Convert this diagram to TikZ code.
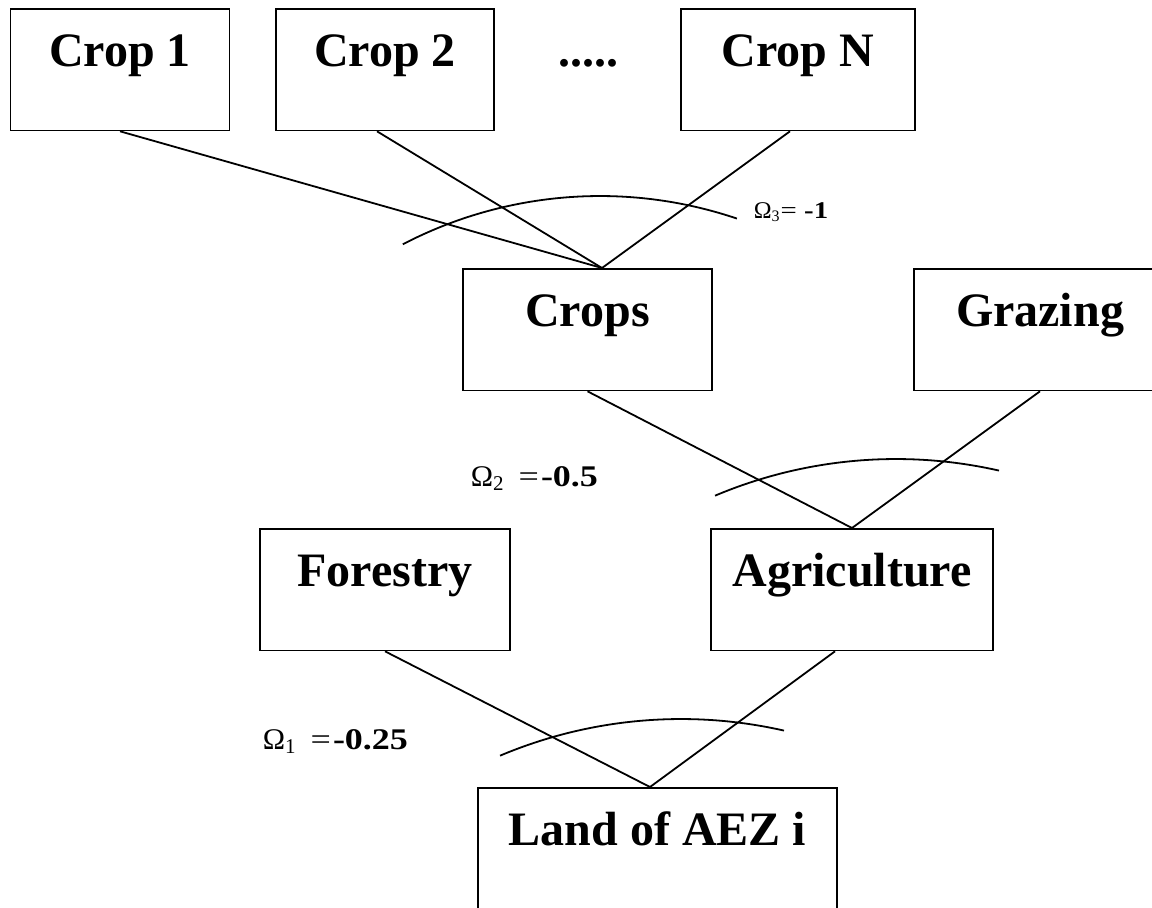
\documentclass[tikz,border=0pt]{standalone}
\usepackage{fontspec}
\setmainfont{Liberation Serif}
\newfontfamily\widefont[FakeStretch=1.2]{Liberation Serif}
\usepackage{tikz}
\newcommand{\pxl}{0.5pt}

\begin{document}
\begin{tikzpicture}[x=\pxl, y=\pxl, line width=0.9pt,
    rect/.style={draw, rectangle, anchor=north, text height=28.75pt, text depth=32pt, inner ysep=0pt, font=\bfseries\fontsize{24}{28}\selectfont},
    omega/.style={anchor=base west, inner sep=0pt, font=\fontsize{15}{17}\selectfont}]
    \useasboundingbox (0,0) rectangle (1152,-907);

    % First row
    \node[rect, minimum width=109.5pt] (crop-1) at (120,-8) {Crop 1};
    \node[rect, minimum width=109pt] (crop-2) at (385,-8) {Crop 2};
    \node[rect, draw=none] (crop-dots) at (588,-8) {.....};
    \node[rect, minimum width=117pt] (crop-n) at (798,-8) {Crop N};

    \node[rect, minimum width=124.5pt] (crops) at (587.5,-268) {Crops};
    \node[rect, minimum width=126pt] (grazing) at (1040,-268) {Grazing};

    \node[rect, minimum width=125pt] (forestry) at (385,-528) {Forestry};
    \node[rect, minimum width=141pt] (agriculture) at (852,-528) {Agriculture};

    \node[rect, minimum width=179.5pt] (land) at (657.5,-787) {Land of AEZ i};

    % Nests
    \coordinate (crops-top) at ([xshift=7.25pt]crops.north);
    \coordinate (land-top) at ([xshift=-3.75pt]land.north);
    \draw (crop-1.south) -- (crops-top);
    \draw ([xshift=-4pt]crop-2.south) -- (crops-top);
    \draw ([xshift=-4pt]crop-n.south) -- (crops-top);
    \draw (crops.south) -- (agriculture.north);
    \draw (grazing.south) -- (agriculture.north);
    \draw (forestry.south) -- (land-top);
    \draw ([xshift=-8.5pt]agriculture.south) -- (land-top);

    % Elasticity arcs
    \coordinate (omega-3-c) at (600,-623);
    \coordinate (omega-2-c) at (896,-924);
    \coordinate (omega-1-c) at (681,-1184);
    \draw ([shift={(117.5:213.5pt)}]omega-3-c) arc[start angle=117.5, end angle=71.3, radius=213.5pt];
    \draw ([shift={(112.9:232.5pt)}]omega-2-c) arc[start angle=112.9, end angle=77.2, radius=232.5pt];
    \draw ([shift={(112.9:232.5pt)}]omega-1-c) arc[start angle=112.9, end angle=77.2, radius=232.5pt];

    \node[omega, font=\fontsize{12}{14}\selectfont] (omega-3) at (753,-218) {Ω\textsubscript{3}{\widefont= \textbf{-1}}};
    \node[omega] (omega-2) at (470,-486) {Ω\textsubscript{2}\hspace{7pt}{\widefont=\hspace{1pt}\textbf{-0.5}}};
    \node[omega] (omega-1) at (262,-749) {Ω\textsubscript{1}\hspace{7pt}{\widefont=\hspace{1pt}\textbf{-0.25}}};

\end{tikzpicture}
\end{document}
